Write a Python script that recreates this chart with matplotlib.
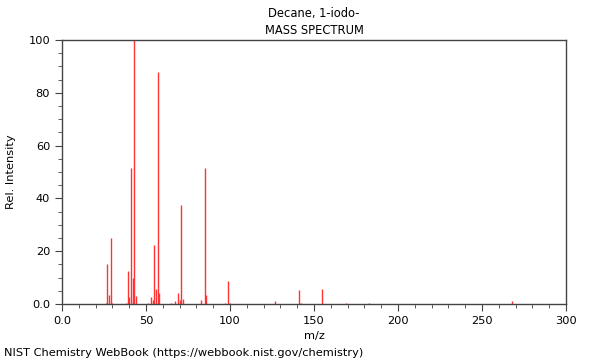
import matplotlib
matplotlib.use("Agg")
from matplotlib import pyplot as plt
from matplotlib.ticker import MultipleLocator, FixedFormatter, FixedLocator

# m/z values and relative intensities
mz = [26, 27, 28, 29, 30, 38, 39, 40, 41, 42, 43, 44,
      51, 53, 54, 55, 56, 57, 58, 65, 67, 69, 70, 71, 72,
      83, 85, 86, 97, 99, 100, 127, 141, 142, 155, 169, 183, 268]
intensity = [0.5, 15, 3.5, 25, 0.5, 0.5, 12.5, 2.5, 51.5, 10, 100, 3,
             0.5, 2.5, 1.5, 22.5, 5.5, 88, 4, 0.3, 1.2, 4, 1.5, 37.5, 2,
             1.7, 51.5, 3.5, 0.5, 8.6, 0.5, 1, 5.3, 0.5, 5.6, 0.5, 0.3, 1.1]

title_lines = ["Decane, 1-iodo-", "MASS SPECTRUM"]
x_ticks = [0, 50, 100, 150, 200, 250, 300]
x_labels = ["0.0", "50", "100", "150", "200", "250", "300"]
y_ticks = [0, 20, 40, 60, 80, 100]
y_labels = ["0.0", "20", "40", "60", "80", "100"]

plt.rcParams['font.family'] = ['DejaVu Sans']
fig = plt.figure(figsize=(6, 3.6), dpi=100)
ax = fig.add_axes([62/600, 1 - 304/360, 504/600, 264/360])

ax.vlines(mz, 0, intensity, colors='#ff3333', linewidth=1.0)

ax.set_xlim(0, 300)
ax.set_ylim(0, 100)
ax.xaxis.set_major_locator(FixedLocator(x_ticks))
ax.xaxis.set_major_formatter(FixedFormatter(x_labels))
ax.xaxis.set_minor_locator(MultipleLocator(10))
ax.yaxis.set_major_locator(FixedLocator(y_ticks))
ax.yaxis.set_major_formatter(FixedFormatter(y_labels))
ax.yaxis.set_minor_locator(MultipleLocator(5))
ax.tick_params(which='major', length=5, width=0.8, labelsize=8.2, color='#444444')
ax.tick_params(which='minor', length=3, width=0.6, color='#444444')

for s in ax.spines.values():
    s.set_color('#444444')
    s.set_linewidth(1.0)

ax.set_xlabel("m/z", fontsize=8.2)
ax.set_ylabel("Rel. Intensity", fontsize=8.2)
ax.yaxis.set_label_coords(-46/504, 0.5)

fig.text(314/600, 1 - 13/360, title_lines[0], ha='center', va='center', fontsize=8.3)
fig.text(314/600, 1 - 30/360, title_lines[1], ha='center', va='center', fontsize=8.3)
fig.text(4/600, 1 - 353/360, "NIST Chemistry WebBook (https://webbook.nist.gov/chemistry)",
         ha='left', va='center', fontsize=8.2)

fig.savefig("out.png", dpi=100)
